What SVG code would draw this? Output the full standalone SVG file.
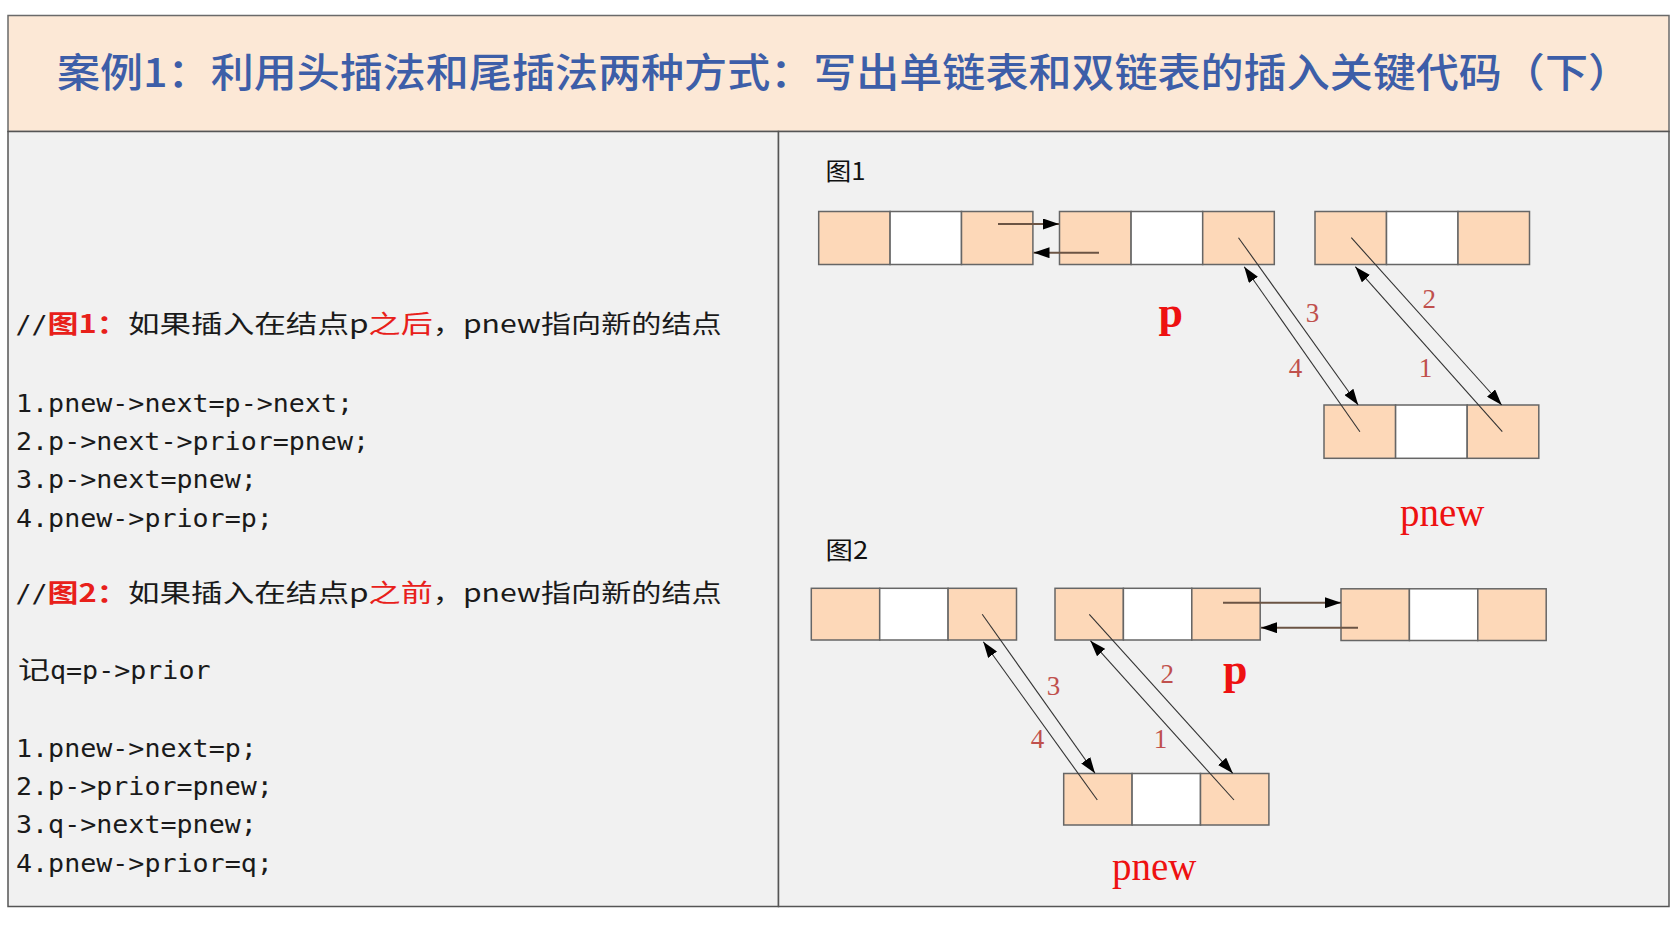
<svg xmlns="http://www.w3.org/2000/svg" width="1672" height="932" viewBox="0 0 1672 932">
<style>
.pk{fill:#fdd8b8;stroke:#666;stroke-width:1.5}
.wh{fill:#ffffff;stroke:#666;stroke-width:1.5}
.code{font-family:"DejaVu Sans Mono","Liberation Mono",monospace;font-size:25px;fill:#1a1a1a}
.cjk{font-family:"Noto Sans CJK SC",sans-serif;font-size:25px;fill:#1a1a1a}
.red{fill:#e8201a}
.num{font-family:"Liberation Serif",serif;font-size:27px;fill:#c0504d;text-anchor:middle}
.lbl{font-family:"Liberation Serif",serif;fill:#ee1111}
.fig{font-family:"Noto Sans CJK SC",sans-serif;font-size:24px;fill:#111}
.diag{stroke:#333;stroke-width:1.1;fill:none}
.horiz{stroke:#6b5444;stroke-width:2;fill:none}
</style>
<defs>
<marker id="ah" viewBox="0 0 16 11" refX="16" refY="5.5" markerWidth="16" markerHeight="11" markerUnits="userSpaceOnUse" orient="auto">
<path d="M0,0 L16,5.5 L0,11 z" fill="#000"/>
</marker>
</defs>
<rect x="0" y="0" width="1672" height="932" fill="#ffffff"/>
<g id="title">
<rect x="8" y="15.5" width="1661" height="116" fill="#fce8d6" stroke="#6a6a6a" stroke-width="1.5"/>
<text x="57" y="87" textLength="1574" lengthAdjust="spacingAndGlyphs" font-family="Noto Sans CJK SC, sans-serif" font-size="40" font-weight="500" fill="#3d5ea8">案例1：利用头插法和尾插法两种方式：写出单链表和双链表的插入关键代码（下）</text>
</g>
<g id="panels">
<rect x="8" y="131.5" width="770.5" height="775" fill="#f1f1f1" stroke="#555" stroke-width="1.5"/>
<rect x="778.5" y="131.5" width="890.5" height="775" fill="#f1f1f1" stroke="#555" stroke-width="1.5"/>
</g>
<g id="code">
<text class="code" x="15.5" y="333" textLength="32" lengthAdjust="spacingAndGlyphs" fill="#333">//</text>
<text class="cjk red" x="47.6" y="333" textLength="80" lengthAdjust="spacingAndGlyphs" font-weight="700">图1：</text>
<text class="cjk" x="127.9" y="333" textLength="240.7" lengthAdjust="spacingAndGlyphs">如果插入在结点p</text>
<text class="cjk red" x="368.6" y="333" textLength="64.2" lengthAdjust="spacingAndGlyphs">之后</text>
<text class="cjk" x="432.8" y="333" textLength="288.9" lengthAdjust="spacingAndGlyphs">，pnew指向新的结点</text>
<text class="code" x="16" y="411.7" textLength="337" lengthAdjust="spacingAndGlyphs">1.pnew-&gt;next=p-&gt;next;</text>
<text class="code" x="16" y="450" textLength="353" lengthAdjust="spacingAndGlyphs">2.p-&gt;next-&gt;prior=pnew;</text>
<text class="code" x="16" y="488.3" textLength="240.8" lengthAdjust="spacingAndGlyphs">3.p-&gt;next=pnew;</text>
<text class="code" x="16" y="526.7" textLength="256.8" lengthAdjust="spacingAndGlyphs">4.pnew-&gt;prior=p;</text>
<text class="code" x="15.5" y="602" textLength="32" lengthAdjust="spacingAndGlyphs" fill="#333">//</text>
<text class="cjk red" x="47.6" y="602" textLength="80" lengthAdjust="spacingAndGlyphs" font-weight="700">图2：</text>
<text class="cjk" x="127.9" y="602" textLength="240.7" lengthAdjust="spacingAndGlyphs">如果插入在结点p</text>
<text class="cjk red" x="368.6" y="602" textLength="64.2" lengthAdjust="spacingAndGlyphs">之前</text>
<text class="cjk" x="432.8" y="602" textLength="288.9" lengthAdjust="spacingAndGlyphs">，pnew指向新的结点</text>
<text class="cjk" x="18" y="678.5" textLength="32" lengthAdjust="spacingAndGlyphs">记</text>
<text class="code" x="50" y="678.5" textLength="160.5" lengthAdjust="spacingAndGlyphs">q=p-&gt;prior</text>
<text class="code" x="16" y="756.7" textLength="240.8" lengthAdjust="spacingAndGlyphs">1.pnew-&gt;next=p;</text>
<text class="code" x="16" y="795" textLength="256.8" lengthAdjust="spacingAndGlyphs">2.p-&gt;prior=pnew;</text>
<text class="code" x="16" y="833.3" textLength="240.8" lengthAdjust="spacingAndGlyphs">3.q-&gt;next=pnew;</text>
<text class="code" x="16" y="871.7" textLength="256.8" lengthAdjust="spacingAndGlyphs">4.pnew-&gt;prior=q;</text>
</g>
<g id="fig1-label"><text class="fig" x="825.6" y="180" textLength="40" lengthAdjust="spacingAndGlyphs">图1</text></g>
<g id="fig2-label"><text class="fig" x="825.6" y="558.5" textLength="42.7" lengthAdjust="spacingAndGlyphs">图2</text></g>
<g id="f1-nodeA">
<rect class="pk" x="818.7" y="211.5" width="71.4" height="53"/>
<rect class="wh" x="890.1" y="211.5" width="71.4" height="53"/>
<rect class="pk" x="961.5" y="211.5" width="71.4" height="53"/>
</g>
<g id="f1-nodeP">
<rect class="pk" x="1059.5" y="211.5" width="71.6" height="53"/>
<rect class="wh" x="1131.1" y="211.5" width="71.6" height="53"/>
<rect class="pk" x="1202.7" y="211.5" width="71.6" height="53"/>
</g>
<g id="f1-nodeC">
<rect class="pk" x="1315" y="211.5" width="71.5" height="53"/>
<rect class="wh" x="1386.5" y="211.5" width="71.5" height="53"/>
<rect class="pk" x="1458" y="211.5" width="71.5" height="53"/>
</g>
<g id="f1-pnew">
<rect class="pk" x="1324" y="405" width="71.6" height="53.3"/>
<rect class="wh" x="1395.6" y="405" width="71.6" height="53.3"/>
<rect class="pk" x="1467.2" y="405" width="71.6" height="53.3"/>
</g>
<g id="f2-nodeQ">
<rect class="pk" x="811.3" y="588.3" width="68.4" height="51.7"/>
<rect class="wh" x="879.7" y="588.3" width="68.4" height="51.7"/>
<rect class="pk" x="948.1" y="588.3" width="68.4" height="51.7"/>
</g>
<g id="f2-nodeP">
<rect class="pk" x="1055" y="588.3" width="68.4" height="51.7"/>
<rect class="wh" x="1123.4" y="588.3" width="68.4" height="51.7"/>
<rect class="pk" x="1191.8" y="588.3" width="68.4" height="51.7"/>
</g>
<g id="f2-nodeN">
<rect class="pk" x="1341" y="588.8" width="68.4" height="51.7"/>
<rect class="wh" x="1409.4" y="588.8" width="68.4" height="51.7"/>
<rect class="pk" x="1477.8" y="588.8" width="68.4" height="51.7"/>
</g>
<g id="f2-pnew">
<rect class="pk" x="1063.7" y="773.5" width="68.4" height="51.5"/>
<rect class="wh" x="1132.1" y="773.5" width="68.4" height="51.5"/>
<rect class="pk" x="1200.5" y="773.5" width="68.4" height="51.5"/>
</g>
<g id="connectors">
<line class="horiz" x1="998" y1="224" x2="1059" y2="224" marker-end="url(#ah)"/>
<line class="horiz" x1="1099" y1="252.7" x2="1033.5" y2="252.7" marker-end="url(#ah)"/>
<line class="diag" x1="1238.5" y1="237.7" x2="1358.2" y2="405" marker-end="url(#ah)"/>
<line class="diag" x1="1359.9" y1="431.7" x2="1244.2" y2="266.7" marker-end="url(#ah)"/>
<line class="diag" x1="1351.3" y1="237.7" x2="1501.7" y2="405" marker-end="url(#ah)"/>
<line class="diag" x1="1502.3" y1="431.7" x2="1355.3" y2="266.7" marker-end="url(#ah)"/>
<line class="horiz" x1="1223" y1="602.7" x2="1341" y2="602.7" marker-end="url(#ah)"/>
<line class="horiz" x1="1358" y1="627.7" x2="1261" y2="627.7" marker-end="url(#ah)"/>
<line class="diag" x1="982.2" y1="614.3" x2="1095" y2="773.3" marker-end="url(#ah)"/>
<line class="diag" x1="1097.3" y1="800" x2="983.3" y2="641.7" marker-end="url(#ah)"/>
<line class="diag" x1="1089.3" y1="614.3" x2="1232.8" y2="773.3" marker-end="url(#ah)"/>
<line class="diag" x1="1234" y1="800" x2="1090.4" y2="640.7" marker-end="url(#ah)"/>
</g>
<g id="f1-labels">
<text class="num" x="1312.6" y="321.5">3</text>
<text class="num" x="1295.5" y="376.5">4</text>
<text class="num" x="1429.3" y="308">2</text>
<text class="num" x="1425.4" y="376.5">1</text>
<text class="lbl" x="1158.5" y="327" font-size="44" font-weight="700">p</text>
<text class="lbl" x="1400" y="526" font-size="39">pnew</text>
</g>
<g id="f2-labels">
<text class="num" x="1053.4" y="695">3</text>
<text class="num" x="1037.5" y="748">4</text>
<text class="num" x="1167.3" y="683">2</text>
<text class="num" x="1160.5" y="748">1</text>
<text class="lbl" x="1223" y="683.5" font-size="44" font-weight="700">p</text>
<text class="lbl" x="1112" y="880" font-size="39">pnew</text>
</g>
</svg>
